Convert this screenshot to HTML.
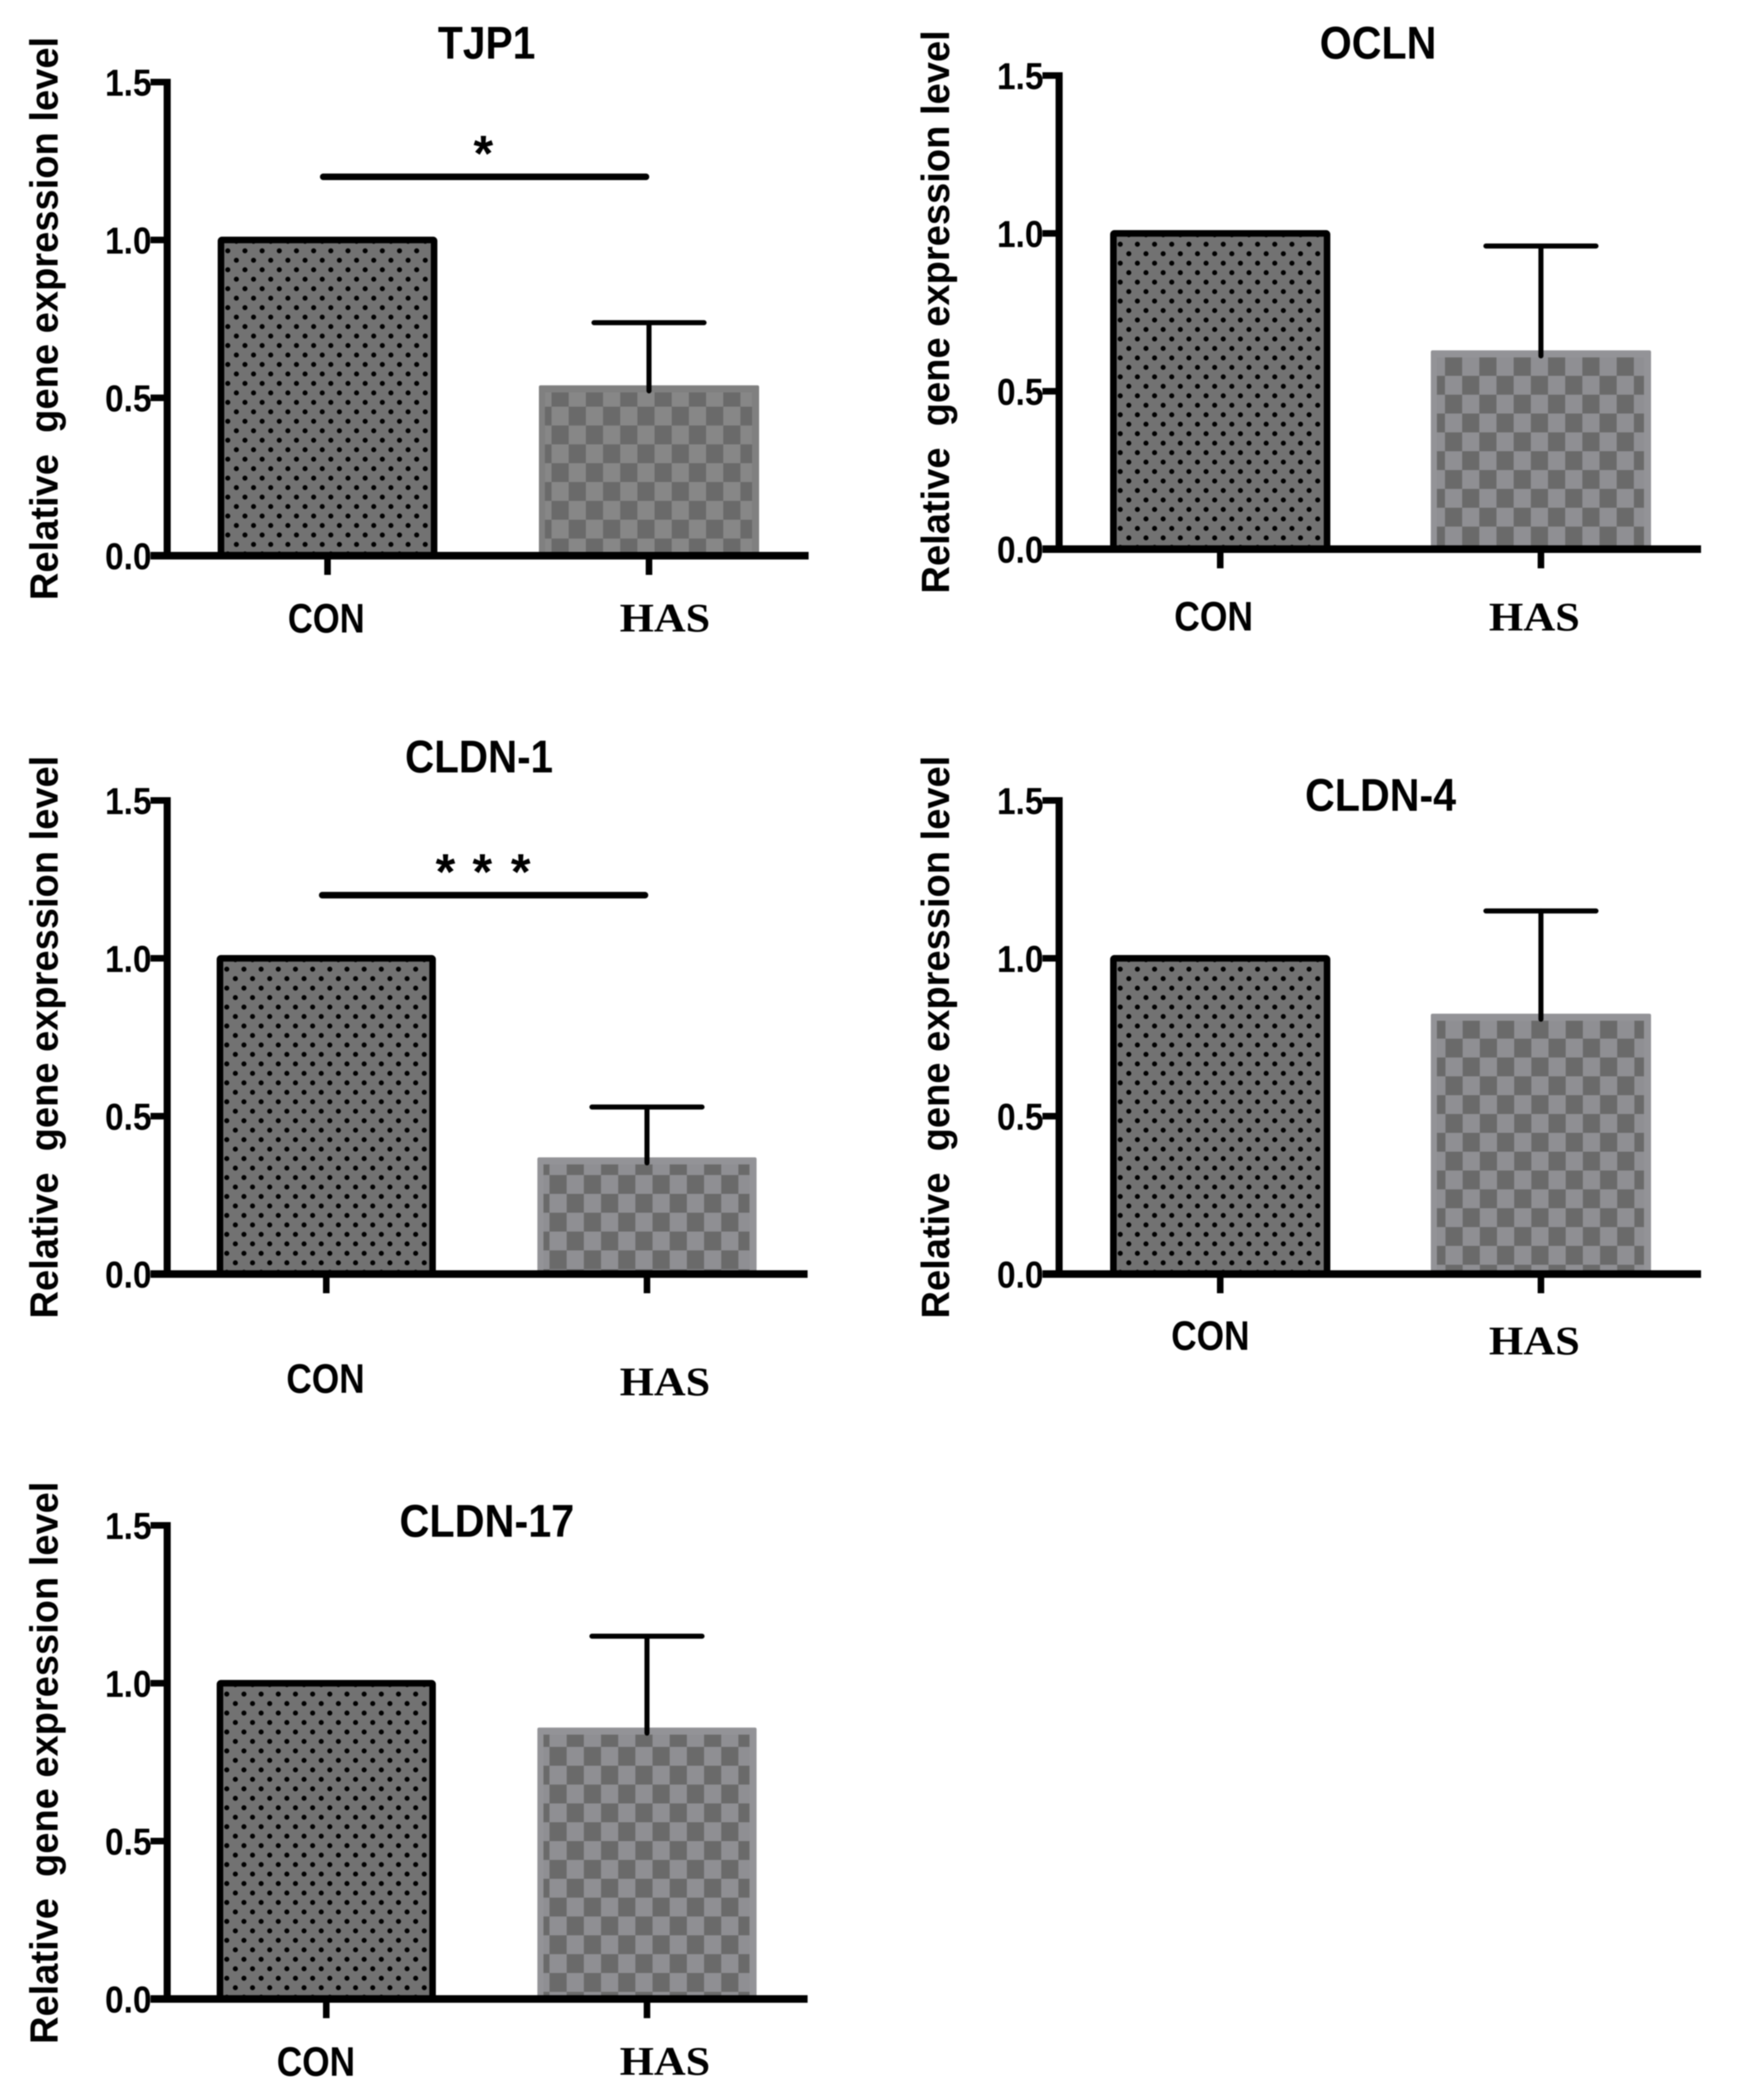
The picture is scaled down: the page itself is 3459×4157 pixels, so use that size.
<!DOCTYPE html>
<html lang="en">
<head>
<meta charset="utf-8">
<title>Relative gene expression of tight junction genes</title>
<style>
html,body{margin:0;padding:0;background:#fff;}
svg{display:block;filter:blur(1px);}
text{fill:#000;white-space:pre;}
</style>
</head>
<body>
<svg id="figure" xmlns="http://www.w3.org/2000/svg" width="3459" height="4157" viewBox="0 0 3459 4157">
<rect width="3459" height="4157" fill="#ffffff"/>
</svg>
<script>
// ---- chart data ----
const panelTitles = ['TJP1', 'OCLN', 'CLDN-1', 'CLDN-4', 'CLDN-17'];
const categories = ['CON', 'HAS'];
const conValues = [1.0, 1.0, 1.0, 1.0, 1.0];
const hasValues = [0.53, 0.62, 0.36, 0.815, 0.85];
const hasErrors = [0.208, 0.34, 0.169, 0.335, 0.299];
const sigMarkers = [['*'], [], ['*', '*', '*'], [], []];
const sigLevel = [1.2, null, 1.2, null, null];
const yTickValues = [0, 0.5, 1.0, 1.5];
const yTickLabels = ['0.0', '0.5', '1.0', '1.5'];
const yAxisTitle = 'Relative  gene expression level';

// ---- layout (pixels, independent of the data) ----
const panelLayouts = [
  {ax:331,  y0:1100, con:[431,866],   has:[1067,1503], right:1601, title:[870,1057,116],   conL:[573,719,1252],   hasL:[1230,1403,1250], yt:[114,73,1188],    sig:[634,1285], stars:[957],          lightBorder:false, check:[1092,767.7]},
  {ax:2097, y0:1087, con:[2198,2634], has:[2833,3269], right:3368, title:[2616,2841,116],  conL:[2328,2478,1248], hasL:[2951,3125,1248], yt:[1879,60,1175],   sig:null,       stars:[],             lightBorder:true,  check:[2861,706.7]},
  {ax:331,  y0:2522, con:[429,863],   has:[1064,1498], right:1599, title:[805,1092,1529],  conL:[570,719,2757],   hasL:[1230,1403,2762], yt:[114,1496,2610],  sig:[632,1283], stars:[882,955,1031], lightBorder:true,  check:[1088,2326]},
  {ax:2097, y0:2522, con:[2198,2634], has:[2833,3269], right:3368, title:[2587,2880,1605], conL:[2322,2471,2672], hasL:[2951,3125,2681], yt:[1879,1496,2610], sig:null,       stars:[],             lightBorder:true,  check:[2862,2056]},
  {ax:331,  y0:3957, con:[429,863],   has:[1064,1498], right:1599, title:[794,1134,3042],  conL:[551,700,4109],   hasL:[1230,1403,4107], yt:[114,2933,4046],  sig:null,       stars:[],             lightBorder:true,  check:[1088,3458]}
];
const UNIT = 625; // pixels per 1.0 on the y axis
const NS = 'http://www.w3.org/2000/svg';
const svg = document.getElementById('figure');
const defs = document.createElementNS(NS, 'defs');
svg.appendChild(defs);

function mk(tag, attrs, parent) {
  const e = document.createElementNS(NS, tag);
  for (const k in attrs) e.setAttribute(k, attrs[k]);
  parent.appendChild(e);
  return e;
}
function yScale(L, v) { return L.y0 - v * UNIT; }
function barCenter(range) { return (range[0] + range[1]) / 2; }
function stretchedText(parent, str, spec, size, family) {
  const t = mk('text', {x: spec[0] - 3, y: spec[2], 'font-family': family, 'font-weight': 'bold', 'font-size': size,
    textLength: spec[1] - spec[0] + 6, lengthAdjust: 'spacingAndGlyphs'}, parent);
  t.textContent = str;
  return t;
}
const SANS = '"Liberation Sans", sans-serif';
const SERIF = '"Liberation Serif", serif';

panelTitles.forEach(function (title, i) {
  const L = panelLayouts[i];
  const g = mk('g', {}, svg);
  
  

  // fill patterns
  const dots = mk('pattern', {id: 'dots' + i, patternUnits: 'userSpaceOnUse', width: 34, height: 37.5,
    patternTransform: 'translate(' + (L.con[0] + 20 - 8.5) + ' ' + (L.y0 - 491 - 9.4) + ')'}, defs);
  mk('rect', {width: 34, height: 37.5, fill: '#727272'}, dots);
  mk('circle', {cx: 8.5, cy: 9.4, r: 5, fill: '#000'}, dots);
  mk('circle', {cx: 25.5, cy: 28.15, r: 5, fill: '#000'}, dots);

  const light = L.lightBorder ? '#8f8f93' : '#878787';
  const check = mk('pattern', {id: 'check' + i, patternUnits: 'userSpaceOnUse', width: 68, height: 74.6,
    patternTransform: 'translate(' + L.check[0] + ' ' + L.check[1] + ')'}, defs);
  mk('rect', {width: 68, height: 74.6, fill: light}, check);
  mk('rect', {x: 0, y: 0, width: 34, height: 37.3, fill: '#6a6a6a'}, check);
  mk('rect', {x: 34, y: 37.3, width: 34, height: 37.3, fill: '#6a6a6a'}, check);

  // bars
  const conTop = yScale(L, conValues[i]);
  const conBar = mk('rect', {x: L.con[0] + 6.5, y: conTop, width: L.con[1] - L.con[0] - 13, height: L.y0 - conTop,
    fill: 'url(#dots' + i + ')', stroke: '#000', 'stroke-width': 13, rx: 2}, g);
  
  

  const hasTop = yScale(L, hasValues[i]);
  const hasBar = mk('rect', {x: L.has[0], y: hasTop - 6, width: L.has[1] - L.has[0], height: L.y0 - hasTop + 6,
    fill: L.lightBorder ? '#939397' : '#808080', rx: 3}, g);
  
  
  const hasInner = mk('rect', {x: L.has[0] + 12, y: hasTop + 8, width: L.has[1] - L.has[0] - 26, height: L.y0 - hasTop - 8,
    fill: 'url(#check' + i + ')'}, g);
  
  

  // error bar
  const ex = barCenter(L.has);
  const capY = yScale(L, hasValues[i] + hasErrors[i]);
  const errStem = mk('line', {x1: ex, x2: ex, y1: hasTop + 5, y2: capY, stroke: '#000', 'stroke-width': 10, 'stroke-linecap': 'round'}, g);
  
  
  const errCap = mk('line', {x1: ex - 109, x2: ex + 109, y1: capY, y2: capY, stroke: '#000', 'stroke-width': 10, 'stroke-linecap': 'round'}, g);
  
  

  // y axis
  const yAxis = mk('line', {x1: L.ax, x2: L.ax, y1: yScale(L, 1.5) - 6.5, y2: L.y0, stroke: '#000', 'stroke-width': 14}, g);
  
  
  yTickValues.forEach(function (v, k) {
    const ty = yScale(L, v);
    const tick = mk('line', {x1: L.ax - 33, x2: L.ax, y1: ty, y2: ty, stroke: '#000', 'stroke-width': 13}, g);
    
    
    const lab = mk('text', {x: L.ax - 123, y: ty + 27, 'font-family': SANS, 'font-weight': 'bold', 'font-size': 74,
      textLength: 92, lengthAdjust: 'spacingAndGlyphs'}, g);
    lab.textContent = yTickLabels[k];
    
    
  });

  // x axis
  const xAxis = mk('line', {x1: L.ax - 33, x2: L.right, y1: L.y0, y2: L.y0, stroke: '#000', 'stroke-width': 15}, g);
  
  
  [L.con, L.has].forEach(function (range) {
    const tx = barCenter(range);
    const tick = mk('line', {x1: tx, x2: tx, y1: L.y0, y2: L.y0 + 38, stroke: '#000', 'stroke-width': 13}, g);
    
    
  });

  // category labels
  const conLabel = stretchedText(g, categories[0], L.conL, 82, SANS);
  
  
  const hasLabel = stretchedText(g, categories[1], L.hasL, 80, SERIF);
  
  

  // title
  const titleEl = stretchedText(g, title, L.title, 91, SANS);
  
  

  // y axis title
  const yt = mk('text', {x: L.yt[0], y: L.yt[2], transform: 'rotate(-90 ' + L.yt[0] + ' ' + L.yt[2] + ')',
    'font-family': SANS, 'font-weight': 'bold', 'font-size': 78,
    textLength: L.yt[2] - L.yt[1], lengthAdjust: 'spacingAndGlyphs'}, g);
  yt.textContent = yAxisTitle;
  
  

  // significance
  if (sigLevel[i] !== null) {
    const sy = yScale(L, sigLevel[i]);
    const sigLine = mk('line', {x1: L.sig[0] + 6, x2: L.sig[1] - 6, y1: sy, y2: sy, stroke: '#000', 'stroke-width': 13, 'stroke-linecap': 'round'}, g);
    
    
    sigMarkers[i].forEach(function (m, k) {
      const star = mk('text', {x: L.stars[k], y: sy - 12, 'text-anchor': 'middle', 'font-family': SANS, 'font-weight': 'bold', 'font-size': 100}, g);
      star.textContent = m;
      
      
    });
  }
});
</script>
</body>
</html>
